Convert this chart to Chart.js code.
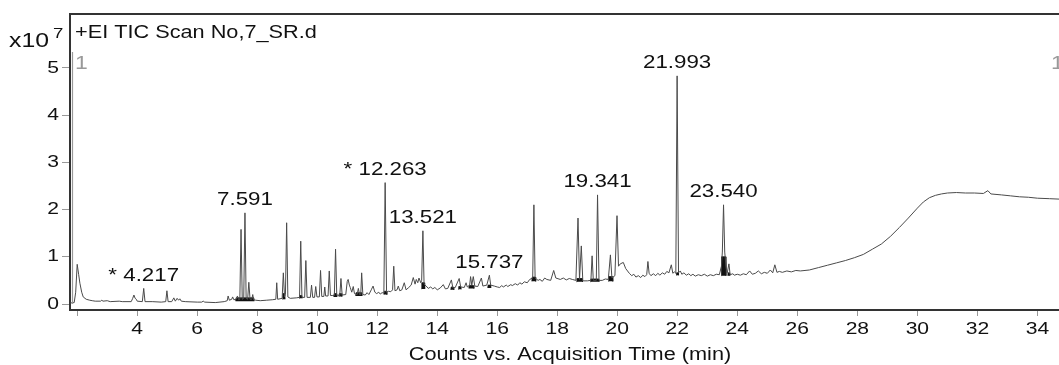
<!DOCTYPE html>
<html>
<head>
<meta charset="utf-8">
<script src="https://cdn.jsdelivr.net/npm/chart.js@4.4.1/dist/chart.umd.min.js"></script>
<style>
html,body{margin:0;padding:0;background:#fff;}
#wrap{width:1059px;height:365px;position:relative;}
</style>
</head>
<body>
<div id="wrap"><canvas id="c"></canvas></div>
<script>
// Acquisition time (min)
const times = [
1.76,1.90,1.95,2.00,2.05,2.09,2.15,2.20,2.30,2.42,2.50,2.60,2.78,2.82,2.86,3.00,3.10,3.40,3.50,3.80,
3.85,3.89,3.93,3.97,4.00,4.17,4.217,4.26,4.50,4.80,4.95,4.99,5.03,5.15,5.22,5.27,5.33,5.38,5.42,5.47,
5.60,6.00,6.15,6.20,6.25,6.60,6.90,7.00,7.03,7.07,7.15,7.18,7.22,7.30,7.34,7.38,7.42,7.46,7.50,7.55,
7.591,7.63,7.68,7.72,7.76,7.82,7.85,7.88,7.95,8.10,8.30,8.50,8.62,8.65,8.68,8.83,8.87,8.91,8.94,8.98,
9.02,9.10,9.30,9.41,9.45,9.49,9.58,9.62,9.66,9.77,9.81,9.85,9.91,9.95,9.99,10.07,10.11,10.15,10.22,10.25,
10.28,10.36,10.40,10.44,10.50,10.57,10.61,10.65,10.75,10.79,10.83,10.95,11.00,11.03,11.07,11.10,11.15,11.20,11.24,11.33,
11.37,11.41,11.45,11.48,11.52,11.60,11.66,11.72,11.80,11.86,11.92,11.98,12.05,12.10,12.16,12.22,12.263,12.31,12.38,12.45,
12.51,12.55,12.59,12.66,12.70,12.75,12.82,12.90,12.96,13.05,13.13,13.20,13.26,13.30,13.35,13.39,13.45,13.48,13.521,13.56,
13.63,13.70,13.78,13.85,13.92,14.00,14.10,14.20,14.27,14.35,14.47,14.52,14.60,14.73,14.78,14.90,14.96,15.00,15.08,15.11,
15.15,15.20,15.25,15.35,15.47,15.52,15.65,15.737,15.78,15.90,16.00,16.08,16.15,16.20,16.30,16.35,16.45,16.50,16.60,16.68,
16.75,16.82,16.90,17.00,17.08,17.18,17.22,17.26,17.36,17.42,17.50,17.58,17.65,17.78,17.88,17.95,18.10,18.20,18.30,18.40,
18.50,18.62,18.69,18.74,18.80,18.85,19.00,19.12,19.16,19.20,19.30,19.341,19.39,19.50,19.60,19.70,19.77,19.82,19.92,19.99,
20.04,20.10,20.20,20.28,20.40,20.48,20.55,20.62,20.70,20.78,20.85,20.92,20.98,21.02,21.06,21.12,21.20,21.28,21.35,21.42,
21.50,21.58,21.65,21.72,21.80,21.85,21.90,21.95,21.993,22.04,22.10,22.15,22.22,22.30,22.38,22.45,22.52,22.60,22.70,22.80,
22.90,23.00,23.10,23.20,23.30,23.40,23.47,23.50,23.540,23.58,23.62,23.66,23.72,23.76,23.85,23.90,24.00,24.10,24.20,24.30,
24.41,24.50,24.60,24.70,24.80,24.90,25.00,25.10,25.18,25.25,25.32,25.40,25.50,25.65,25.80,25.95,26.10,26.40,26.70,27.00,
27.30,27.60,27.90,28.20,28.50,28.80,29.10,29.40,29.70,30.00,30.20,30.40,30.60,30.80,31.00,31.30,31.60,31.90,32.20,32.35,
32.45,32.80,33.10,33.40,33.70,34.00,34.40,34.75
];
// Counts (x10^7)
const counts = [
0.02,0.03,0.25,0.84,0.62,0.44,0.25,0.15,0.10,0.08,0.07,0.06,0.06,0.08,0.06,0.07,0.05,0.06,0.05,0.05,
0.12,0.19,0.12,0.10,0.06,0.05,0.33,0.05,0.05,0.04,0.05,0.28,0.05,0.05,0.13,0.06,0.12,0.08,0.11,0.06,
0.05,0.04,0.04,0.06,0.04,0.03,0.05,0.07,0.17,0.08,0.10,0.15,0.09,0.10,0.17,0.09,0.10,1.58,0.10,0.12,
1.93,0.12,0.10,0.46,0.10,0.10,0.20,0.09,0.08,0.07,0.08,0.09,0.10,0.45,0.10,0.12,0.66,0.15,0.20,1.72,
0.15,0.12,0.13,0.14,1.33,0.14,0.14,0.92,0.14,0.14,0.40,0.14,0.14,0.37,0.15,0.15,0.71,0.16,0.16,0.36,
0.17,0.17,0.70,0.18,0.18,0.18,1.16,0.19,0.18,0.54,0.19,0.20,0.48,0.52,0.40,0.35,0.25,0.37,0.22,0.20,
0.33,0.20,0.20,0.66,0.20,0.19,0.24,0.20,0.30,0.38,0.25,0.22,0.25,0.21,0.24,0.23,2.57,0.25,0.27,0.26,
0.30,0.80,0.28,0.30,0.38,0.28,0.30,0.45,0.30,0.35,0.40,0.56,0.42,0.52,0.45,0.55,0.45,0.50,1.55,0.42,
0.38,0.33,0.36,0.32,0.35,0.30,0.34,0.41,0.32,0.33,0.51,0.34,0.35,0.54,0.36,0.35,0.45,0.36,0.40,0.58,
0.40,0.58,0.38,0.37,0.55,0.38,0.40,0.61,0.40,0.38,0.36,0.35,0.39,0.36,0.40,0.37,0.41,0.39,0.43,0.40,
0.45,0.42,0.47,0.45,0.52,0.55,2.10,0.55,0.50,0.52,0.48,0.55,0.52,0.50,0.71,0.55,0.52,0.55,0.51,0.54,
0.52,0.50,1.82,0.52,1.23,0.49,0.49,0.50,1.02,0.50,0.50,2.31,0.50,0.50,0.53,0.52,1.04,0.55,0.60,1.87,
0.80,0.85,0.88,0.75,0.65,0.60,0.63,0.57,0.60,0.56,0.61,0.58,0.62,0.90,0.65,0.60,0.64,0.60,0.65,0.61,
0.66,0.63,0.69,0.66,0.83,0.65,0.68,0.65,4.83,0.66,0.70,0.63,0.66,0.61,0.64,0.60,0.63,0.59,0.62,0.60,
0.63,0.59,0.62,0.60,0.63,0.62,0.80,1.10,2.10,1.10,0.80,0.65,0.85,0.62,0.64,0.61,0.63,0.61,0.64,0.62,
0.70,0.63,0.65,0.70,0.64,0.67,0.65,0.72,0.66,0.83,0.67,0.69,0.67,0.70,0.68,0.71,0.70,0.72,0.77,0.82,
0.87,0.92,0.98,1.05,1.16,1.27,1.43,1.62,1.82,2.03,2.16,2.25,2.30,2.33,2.35,2.36,2.35,2.35,2.34,2.40,
2.33,2.31,2.29,2.27,2.26,2.24,2.23,2.22
];
// Integrated (black-filled) peak regions: start, end, base, top
const intStart = [7.28, 8.84, 9.40, 10.55, 10.72, 11.28, 12.22, 13.47, 14.45, 14.70, 15.05, 15.68, 17.15, 18.64, 19.10, 19.70, 21.96, 23.46, 23.68];
const intEnd   = [7.90, 8.93, 9.50, 10.66, 10.82, 11.50, 12.32, 13.58, 14.55, 14.80, 15.22, 15.78, 17.28, 18.84, 19.40, 19.85, 22.04, 23.62, 23.76];
const intBase  = [0.06, 0.10, 0.12, 0.15, 0.16, 0.17, 0.20, 0.32, 0.30, 0.31, 0.33, 0.34, 0.48, 0.47, 0.47, 0.48, 0.61, 0.60, 0.60];
const intTop   = [0.13, 0.22, 0.18, 0.22, 0.22, 0.24, 0.27, 0.45, 0.36, 0.37, 0.39, 0.40, 0.57, 0.54, 0.53, 0.58, 0.66, 1.00, 0.66];
// Annotated peaks
const peakTimes  = [4.217, 7.591, 12.263, 13.521, 15.737, 19.341, 21.993, 23.540];
const peakLabels = ['* 4.217', '7.591', '* 12.263', '13.521', '15.737', '19.341', '21.993', '23.540'];
const titleText = '+EI TIC Scan No,7_SR.d';
const xAxisTitle = 'Counts vs. Acquisition Time (min)';
const yMultiplier = ['x10', '7'];

const SX = 1.24; // horizontal text stretch of the original export
const FONT = "'Liberation Sans', Arial, sans-serif";

const canvas = document.getElementById('c');
const ctx = canvas.getContext('2d');
const origFill = ctx.fillText.bind(ctx);
ctx.fillText = function(text, x, y, maxWidth) {
  this.save();
  this.translate(x, y);
  this.scale(SX, 1);
  if (maxWidth === undefined || maxWidth === null) origFill(text, 0, 0);
  else origFill(text, 0, 0, maxWidth / SX);
  this.restore();
};

const lowPts = [], highPts = [];
intStart.forEach((s, i) => {
  const e = intEnd[i], b = intBase[i], t = intTop[i];
  lowPts.push({x: s, y: b}, {x: e, y: b}, {x: e + 0.001, y: null});
  highPts.push({x: s, y: b}, {x: s + 0.015, y: t}, {x: e - 0.015, y: t}, {x: e, y: b}, {x: e + 0.001, y: null});
});

const decor = {
  id: 'decor',
  afterDraw(chart) {
    const c = chart.ctx, a = chart.chartArea;
    const xs = chart.scales.x, ys = chart.scales.y;
    c.save();
    c.strokeStyle = '#333'; c.lineWidth = 2;
    c.beginPath(); c.moveTo(a.left - 1, a.top); c.lineTo(a.right, a.top); c.stroke();
    c.strokeStyle = '#999'; c.lineWidth = 1.2;
    c.beginPath(); c.moveTo(a.left + 2.5, 52); c.lineTo(a.left + 2.5, ys.getPixelForValue(0)); c.stroke();
    c.fillStyle = '#111'; c.textAlign = 'left'; c.textBaseline = 'middle';
    c.font = "17.5px " + FONT;
    c.fillText(titleText, a.left + 5, 33);
    c.font = "20px " + FONT;
    c.fillText(yMultiplier[0], 9, 41);
    c.font = "15px " + FONT;
    c.fillText(yMultiplier[1], 53, 34);
    c.fillStyle = '#999'; c.font = "18.5px " + FONT;
    c.fillText('1', a.left + 5, 64);
    c.fillText('1', 1051, 64);
    c.fillStyle = '#111'; c.font = "18px " + FONT; c.textAlign = 'center';
    peakTimes.forEach((t, i) => {
      let top = 0;
      times.forEach((tt, j) => { if (Math.abs(tt - t) < 0.02) top = Math.max(top, counts[j]); });
      c.fillText(peakLabels[i], xs.getPixelForValue(t), ys.getPixelForValue(top) - 12.5);
    });
    c.font = "17.5px " + FONT;
    c.fillText(xAxisTitle, 570, 355);
    c.restore();
  }
};

new Chart(canvas, {
  type: 'line',
  data: {
    datasets: [{
      data: times.map((t, i) => ({x: t, y: counts[i]})),
      borderColor: '#4a4a4a',
      borderWidth: 1,
      pointRadius: 0,
      tension: 0,
      fill: false
    }, {
      data: lowPts,
      borderWidth: 0, borderColor: 'rgba(0,0,0,0)',
      pointRadius: 0, tension: 0, fill: false, spanGaps: false
    }, {
      data: highPts,
      borderWidth: 0.8, borderColor: '#111', backgroundColor: '#111',
      pointRadius: 0, tension: 0, fill: '-1', spanGaps: false
    }]
  },
  options: {
    responsive: true,
    maintainAspectRatio: false,
    animation: false,
    events: [],
    layout: {padding: {top: 14, right: 0, left: 0, bottom: 0}},
    plugins: {legend: {display: false}, tooltip: {enabled: false}, title: {display: false}, filler: {propagate: false}},
    scales: {
      x: {
        type: 'linear',
        min: 1.76, max: 34.72,
        afterFit(s) { s.height = 55; },
        afterBuildTicks(s) { s.ticks = s.ticks.filter(t => Math.abs(t.value - Math.round(t.value)) < 1e-6 && Math.round(t.value) % 2 === 0); },
        ticks: {
          stepSize: 2, includeBounds: false, autoSkip: false, maxRotation: 0,
          padding: 3, color: '#111',
          font: {family: FONT, size: 17},
          callback: v => (v === 2 ? '' : String(v))
        },
        grid: {drawOnChartArea: false, drawTicks: true, tickLength: 6, color: '#999', lineWidth: 1},
        border: {display: true, color: '#333', width: 2}
      },
      y: {
        min: -0.127, max: 6.14,
        afterFit(s) { s.width = 70; },
        afterBuildTicks(s) { s.ticks = s.ticks.filter(t => t.value >= 0 && t.value <= 5 && Math.abs(t.value - Math.round(t.value)) < 1e-6); },
        ticks: {
          stepSize: 1, includeBounds: false, padding: 3, color: '#111',
          font: {family: FONT, size: 17}
        },
        grid: {drawOnChartArea: false, drawTicks: true, tickLength: 8, color: '#999', lineWidth: 1},
        border: {display: true, color: '#333', width: 2}
      }
    }
  },
  plugins: [decor]
});
</script>
</body>
</html>
